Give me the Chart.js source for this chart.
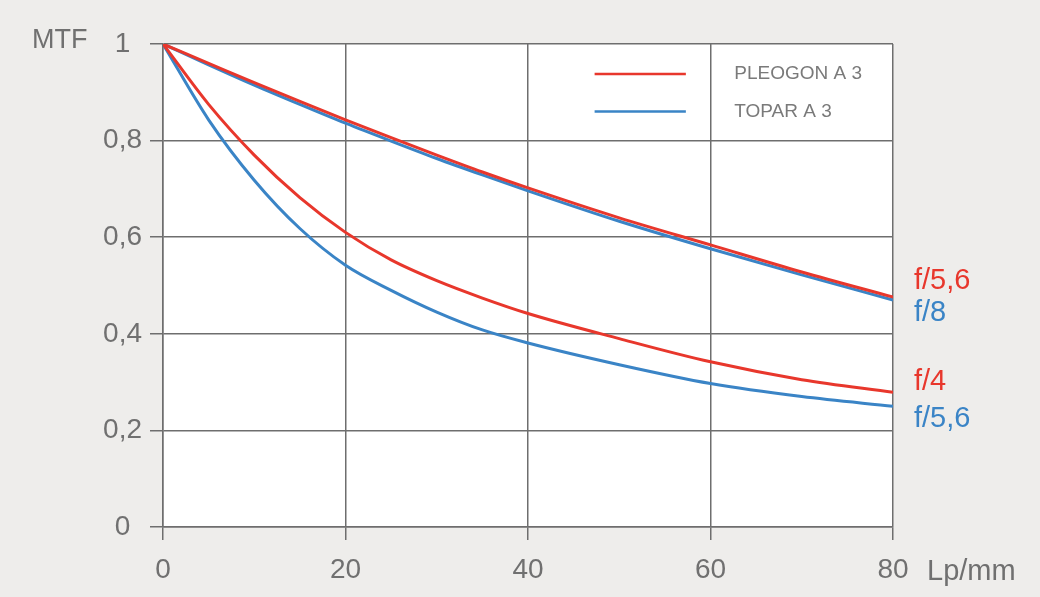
<!DOCTYPE html>
<html>
<head>
<meta charset="utf-8">
<script src="https://cdn.jsdelivr.net/npm/chart.js@4"></script>
<style>
  html, body { margin: 0; padding: 0; background: #eeedeb; }
  #wrap { width: 1040px; height: 597px; }
</style>
</head>
<body>
<div id="wrap"><canvas id="mtfChart" width="1040" height="597"></canvas></div>
<script>
// Lp/mm sample points
const lpmm = [0, 5, 10, 15, 20, 25, 30, 35, 40, 50, 60, 70, 80];
// MTF values
const pleogonF56 = [1, 0.96, 0.92, 0.881, 0.843, 0.806, 0.77, 0.735, 0.702, 0.64, 0.584, 0.528, 0.476];
const toparF8 = [1, 0.957, 0.915, 0.875, 0.836, 0.799, 0.763, 0.729, 0.696, 0.633, 0.576, 0.522, 0.47];
const pleogonF4 = [1, 0.875, 0.77, 0.682, 0.61, 0.553, 0.51, 0.474, 0.442, 0.39, 0.342, 0.305, 0.279];
const toparF56 = [1, 0.843, 0.718, 0.618, 0.542, 0.49, 0.445, 0.408, 0.381, 0.336, 0.297, 0.27, 0.25];

const seriesNames = ['PLEOGON A 3', 'TOPAR A 3'];
const endLabels = ['f/5,6', 'f/8', 'f/4', 'f/5,6'];

const RED = '#e8372c';
const BLUE = '#3a84c6';
const GRID = '#6e6e6e';
const TEXT = '#707070';
const FONT = '"Liberation Sans", Arial, sans-serif';

function pts(ys) {
    return lpmm.map((x, i) => ({ x: x, y: ys[i] }));
}

// hintergrund + weisse Plotfläche
const bgPlugin = {
    id: 'bg',
    beforeDraw(chart) {
        const ctx = chart.ctx, a = chart.chartArea;
        ctx.save();
        ctx.fillStyle = '#eeedeb';
        ctx.fillRect(0, 0, chart.width, chart.height);
        ctx.fillStyle = '#ffffff';
        ctx.fillRect(a.left, a.top, a.right - a.left, a.bottom - a.top);
        ctx.restore();
    }
};

// Achsentitel, Blendenwerte, Legende
const textPlugin = {
    id: 'texts',
    afterDraw(chart) {
        const ctx = chart.ctx;
        const xs = chart.scales.x, ys = chart.scales.y;
        ctx.save();
        ctx.fillStyle = TEXT;
        ctx.textBaseline = 'middle';
        ctx.textAlign = 'left';
        ctx.font = '27px ' + FONT;
        ctx.fillText('MTF', 32, ys.getPixelForValue(1) - 3);
        ctx.font = '29px ' + FONT;
        ctx.fillText('Lp/mm', xs.getPixelForValue(80) + 34, 572);

        // Blendenwerte am Kurvenende
        const offs = [-16, 13, -10, 13];
        chart.data.datasets.forEach((ds, i) => {
            const meta = chart.getDatasetMeta(i);
            const last = meta.data[meta.data.length - 1];
            ctx.fillStyle = ds.borderColor;
            ctx.font = '29px ' + FONT;
            ctx.fillText(endLabels[i], last.x + 21, last.y + offs[i]);
        });

        // Legende
        const lx0 = xs.getPixelForValue(47.3), lx1 = xs.getPixelForValue(57.3);
        const tx = xs.getPixelForValue(62.6);
        const rows = [ys.getPixelForValue(0.938), ys.getPixelForValue(0.86)];
        [RED, BLUE].forEach((c, i) => {
            ctx.strokeStyle = c;
            ctx.lineWidth = 2.5;
            ctx.beginPath();
            ctx.moveTo(lx0, rows[i]);
            ctx.lineTo(lx1, rows[i]);
            ctx.stroke();
            ctx.fillStyle = '#7a7a7a';
            ctx.font = '19px ' + FONT;
            ctx.fillText(seriesNames[i], tx, rows[i]);
        });
        ctx.restore();
    }
};

function fmt(v) {
    return Number(v.toFixed(1)).toString().replace('.', ',');
}

const mtfChartData = {
    type: 'line',
    data: {
        datasets: [
            { label: seriesNames[0] + ' f/5,6', data: pts(pleogonF56), borderColor: RED, order: 0 },
            { label: seriesNames[1] + ' f/8', data: pts(toparF8), borderColor: BLUE, order: 1 },
            { label: seriesNames[0] + ' f/4', data: pts(pleogonF4), borderColor: RED, order: 0 },
            { label: seriesNames[1] + ' f/5,6', data: pts(toparF56), borderColor: BLUE, order: 1 }
        ]
    },
    options: {
        responsive: false,
        animation: false,
        layout: { padding: { top: 44, right: 147, left: 0, bottom: 0 } },
        elements: {
            line: { borderWidth: 3, cubicInterpolationMode: 'monotone', fill: false },
            point: { radius: 0 }
        },
        plugins: {
            legend: { display: false },
            tooltip: { enabled: false }
        },
        scales: {
            x: {
                type: 'linear',
                min: 0,
                max: 80,
                afterFit(scale) { scale.height = 70; },
                ticks: { stepSize: 20, color: TEXT, padding: 13, font: { family: FONT, size: 28 } },
                grid: { color: GRID, lineWidth: 1.5, tickLength: 13 },
                border: { color: GRID, width: 1.5 }
            },
            y: {
                min: 0,
                max: 1,
                afterFit(scale) { scale.width = 163; },
                ticks: {
                    stepSize: 0.2, color: TEXT, padding: 8, crossAlign: 'center',
                    font: { family: FONT, size: 28 },
                    callback: (v) => fmt(v)
                },
                grid: { color: GRID, lineWidth: 1.5, tickLength: 13 },
                border: { color: GRID, width: 1.5 }
            }
        }
    },
    plugins: [bgPlugin, textPlugin]
};

window.onload = function() {
    const ctx = document.getElementById('mtfChart').getContext('2d');
    const mtfChart = new Chart(ctx, mtfChartData);
}
</script>
</body>
</html>
